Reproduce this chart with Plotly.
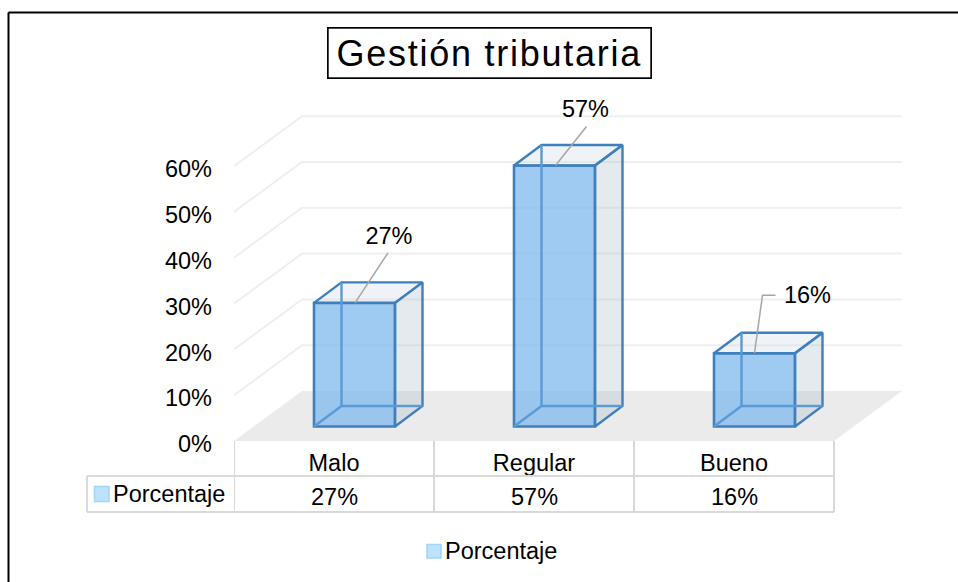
import plotly.graph_objects as go

# ---- data ----
categories = ["Malo", "Regular", "Bueno"]
values = [27, 57, 16]
y_ticks = [0, 10, 20, 30, 40, 50, 60]
y_labels = ["0%", "10%", "20%", "30%", "40%", "50%", "60%"]
series_name = "Porcentaje"
title_text = "Gestión tributaria"

# ---- geometry (page pixels -> axis units) ----
W, H = 958, 582
X0, Y0 = 234, 441          # front-left corner of the floor
PX_CAT, PX_PCT = 200, 4.58 # pixels per category, per percent
DOM_R, DOM_T = 934, 90
def ux(px): return px / PX_CAT
def uy(px): return px / PX_PCT
def px_x(p): return p / W
def px_y(p): return (H - p) / H

FONT = "Liberation Sans"
FS = 23.5
WALL_DX, WALL_DY = ux(68), uy(50)
BAR_DX, BAR_DY = ux(20.5), uy(14.5)
BAR_W = ux(81)
DEP_DX, DEP_DY = ux(27.5), uy(20.5)
EDGE = "#3E80BD"
HIDDEN = "#5A9AD6"
xs = list(range(len(categories)))
xl, xr = -0.5, len(categories) - 0.5

fig = go.Figure()
shapes, annots = [], []

def poly(pts):
    return "M " + " L ".join(f"{a},{b}" for a, b in pts) + " Z"
def path(pts):
    return "M " + " L ".join(f"{a},{b}" for a, b in pts)

# floor
shapes.append(dict(type="path", xref="x", yref="y", layer="below",
                   path=poly([(xl, 0), (xr, 0), (xr + WALL_DX, WALL_DY), (xl + WALL_DX, WALL_DY)]),
                   fillcolor="#EBEBEB", line=dict(width=0)))
# gridlines on side and back wall
for t in y_ticks[1:]:
    shapes.append(dict(type="path", xref="x", yref="y", layer="below",
                       path=path([(xl, t), (xl + WALL_DX, t + WALL_DY), (xr + WALL_DX, t + WALL_DY)]),
                       fillcolor="rgba(0,0,0,0)", line=dict(color="#EFEFEF", width=2)))

# front faces of the columns
fig.add_trace(go.Bar(
    x=xs, y=values, base=[BAR_DY] * 3, width=BAR_W,
    offset=BAR_DX - BAR_W / 2, showlegend=False, hoverinfo="skip",
    marker=dict(color="rgba(122,181,236,0.72)", line=dict(color=EDGE, width=2.6)),
))

# remaining faces and hidden edges
for i, v in zip(xs, values):
    l = i + BAR_DX - BAR_W / 2
    r = l + BAR_W
    b = BAR_DY
    t = BAR_DY + v
    top = [(l, t), (r, t), (r + DEP_DX, t + DEP_DY), (l + DEP_DX, t + DEP_DY), (l, t)]
    side = [(r, t), (r + DEP_DX, t + DEP_DY), (r + DEP_DX, b + DEP_DY), (r, b), (r, t)]
    fig.add_trace(go.Scatter(x=[p[0] for p in top], y=[p[1] for p in top], mode="lines",
                             fill="toself", fillcolor="rgba(205,218,230,0.33)",
                             line=dict(color=EDGE, width=2.4), showlegend=False, hoverinfo="skip"))
    fig.add_trace(go.Scatter(x=[p[0] for p in side], y=[p[1] for p in side], mode="lines",
                             fill="toself", fillcolor="rgba(175,190,205,0.33)",
                             line=dict(color=EDGE, width=2.4), showlegend=False, hoverinfo="skip"))
    fig.add_trace(go.Scatter(
        x=[l, l + DEP_DX, r + DEP_DX, None, l + DEP_DX, l + DEP_DX],
        y=[b, b + DEP_DY, b + DEP_DY, None, b + DEP_DY, t + DEP_DY],
        mode="lines", line=dict(color=HIDDEN, width=2.4), showlegend=False, hoverinfo="skip"))

# data-label leaders (offsets from the column top, in pixels)
leaders = [
    [(0.5, 0), (33.5, 50)],
    [(1, 0), (32, 39)],
    [(0, 0), (8, 58), (21, 58)],
]
label_off = [(34.5, 65), (31, 54), (53, 56)]
for i, v, pts, lo in zip(xs, values, leaders, label_off):
    cx = i + BAR_DX
    ty = BAR_DY + v
    fig.add_trace(go.Scatter(x=[cx + ux(a) for a, _ in pts], y=[ty + uy(c) for _, c in pts],
                             mode="lines", line=dict(color="#A6A6A6", width=1.5),
                             showlegend=False, hoverinfo="skip"))
    fig.add_trace(go.Scatter(x=[cx + ux(lo[0])], y=[ty + uy(lo[1])], mode="text",
                             text=[f"{v}%"], textposition="middle center",
                             textfont=dict(family=FONT, size=FS, color="#000"),
                             showlegend=False, hoverinfo="skip", cliponaxis=False))

# legend entry: text comes from the legend, its key is drawn next to the text
fig.add_trace(go.Scatter(x=[None], y=[None], mode="markers", name=series_name,
                         marker=dict(symbol="square", size=14, color="rgba(0,0,0,0)")))
shapes.append(dict(type="rect", xref="paper", yref="paper", x0=px_x(427), x1=px_x(441),
                   y0=px_y(544.5), y1=px_y(558), fillcolor="#BDE3FB",
                   line=dict(color="#9FD6F9", width=1.5)))

# data table
TC = "#D9D9D9"
ROW0, ROW1, ROW2 = 441, 476, 512
TABLE_L = 87
for i in range(len(categories) + 1):
    shapes.append(dict(type="line", xref="x", yref="paper", x0=xl + i, x1=xl + i,
                       y0=px_y(ROW0), y1=px_y(ROW2), line=dict(color=TC, width=2)))
for row in (ROW1, ROW2):
    shapes.append(dict(type="line", xref="paper", yref="paper", x0=px_x(TABLE_L), x1=px_x(X0 + PX_CAT * 3),
                       y0=px_y(row), y1=px_y(row), line=dict(color=TC, width=2)))
shapes.append(dict(type="line", xref="paper", yref="paper", x0=px_x(TABLE_L), x1=px_x(TABLE_L),
                   y0=px_y(ROW1), y1=px_y(ROW2), line=dict(color=TC, width=2)))
shapes.append(dict(type="rect", xref="paper", yref="paper", x0=px_x(94.5), x1=px_x(109),
                   y0=px_y(486.5), y1=px_y(501.5), fillcolor="#BDE3FB",
                   line=dict(color="#9FD6F9", width=1.5)))
annots.append(dict(xref="paper", yref="paper", x=px_x(111), y=px_y(493.5), xanchor="left", yanchor="middle",
                   text=series_name, showarrow=False, font=dict(family=FONT, size=FS, color="#000")))
for i, v in zip(xs, values):
    annots.append(dict(xref="x", yref="paper", x=i, y=px_y(497), xanchor="center", yanchor="middle",
                       text=f"{v}%", showarrow=False, font=dict(family=FONT, size=FS, color="#000")))

# title
annots.append(dict(xref="paper", yref="paper", x=px_x(489), y=px_y(53), xanchor="center", yanchor="middle",
                   text=title_text, showarrow=False, width=322, height=49, align="center", valign="middle",
                   bordercolor="#000", borderwidth=1.7, borderpad=0,
                   font=dict(family=FONT, size=36, color="#000")))

# chart frame (left and top only)
for x0, y0, x1, y1 in [(8.5, 12.5, 8.5, H), (8.5, 12.5, W, 12.5)]:
    shapes.append(dict(type="line", xref="paper", yref="paper", x0=px_x(x0), x1=px_x(x1),
                       y0=px_y(y0), y1=px_y(y1), line=dict(color="#000", width=2)))

fig.update_layout(
    width=W, height=H, margin=dict(l=0, r=0, t=0, b=0, autoexpand=False),
    paper_bgcolor="white", plot_bgcolor="rgba(0,0,0,0)",
    font=dict(family=FONT, size=FS, color="#000"),
    shapes=shapes, annotations=annots,
    showlegend=True,
    legend=dict(orientation="h", x=px_x(405), y=px_y(550.5), xanchor="left", yanchor="middle",
                font=dict(family=FONT, size=FS), bgcolor="rgba(0,0,0,0)", itemwidth=30),
    xaxis=dict(domain=[px_x(X0), px_x(DOM_R)], range=[xl, xl + (DOM_R - X0) / PX_CAT],
               tickvals=xs, ticktext=categories, ticklen=0, showgrid=False, zeroline=False,
               showline=False, tickfont=dict(family=FONT, size=FS, color="#000"), ticklabelstandoff=5),
    yaxis=dict(domain=[px_y(Y0), px_y(DOM_T)], range=[0, (Y0 - DOM_T) / PX_PCT],
               tickvals=y_ticks, ticktext=y_labels, ticklen=0, showgrid=False, zeroline=False,
               showline=False, tickfont=dict(family=FONT, size=FS, color="#000"), ticklabelstandoff=21,
               ticklabelshift=3),
)
post = """
document.body.style.margin = '0';
document.querySelectorAll('.annotation-text').forEach(function (n) {
  if (n.textContent.indexOf('Gesti') === 0) { n.style.letterSpacing = '1.75px'; }
});
"""
fig.write_html("out.html", post_script=post, config={"displayModeBar": False})
